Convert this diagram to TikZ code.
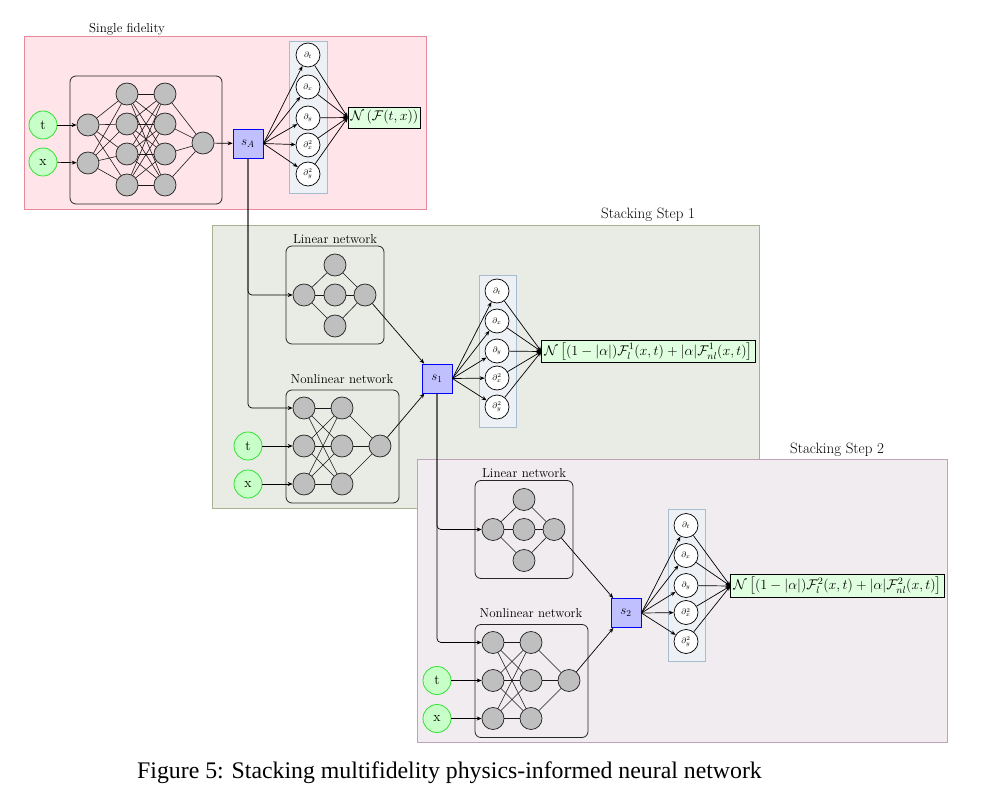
\RequirePackage{fix-cm}
\documentclass[tikz,border=0pt]{standalone}
\usepackage{amsmath}
\usepackage{fontspec}
\newfontfamily\capfont{Liberation Serif}
\usetikzlibrary{arrows.meta,calc}
\definecolor{pinkfill}{HTML}{FFE4EA}
\definecolor{pinkdraw}{HTML}{E8899C}
\definecolor{sonefill}{HTML}{E9ECE5}
\definecolor{sonedraw}{HTML}{A8B190}
\definecolor{stwofill}{HTML}{F0ECF0}
\definecolor{stwodraw}{HTML}{C0A2B8}
\definecolor{colfill}{HTML}{EDF0F4}
\definecolor{coldraw}{HTML}{A6BDD0}
\definecolor{gfill}{HTML}{C8FFC8}
\definecolor{gdraw}{HTML}{33E033}
\definecolor{sfill}{HTML}{C0C0FF}
\definecolor{nfill}{HTML}{E0FFE0}
\tikzset{
  every node/.style={font=\fontsize{13}{15}\selectfont},
  gn/.style={circle, draw=black!85, fill=gray!50, minimum size=22pt, inner sep=0pt, line width=0.75pt},
  inp/.style={circle, draw=gdraw, fill=gfill, minimum size=28pt, inner sep=0pt, line width=0.8pt, font=\fontsize{14}{16}\selectfont},
  dn/.style={circle, draw=black, fill=white, minimum size=24pt, inner sep=0pt, line width=0.7pt, font=\fontsize{8}{9}\selectfont},
  sbox/.style={draw=blue, fill=sfill, minimum width=30pt, minimum height=29pt, inner sep=0pt, line width=0.8pt},
  nbox/.style={draw=black, fill=nfill, inner sep=2.5pt, minimum height=21pt, line width=0.8pt, font=\fontsize{14}{16}\selectfont},
  netbox/.style={draw=black!85, rounded corners=6pt, line width=0.8pt, inner sep=0pt},
  colbox/.style={draw=coldraw, fill=colfill, line width=0.8pt, inner sep=0pt},
  panel/.style={line width=0.8pt, inner sep=0pt},
  ln/.style={line width=0.6pt, draw=black!90},
  arr/.style={-{Stealth[length=5pt,width=4pt]}, line width=0.7pt},
}
\begin{document}
\begin{tikzpicture}[x=1pt,y=-1pt]
\useasboundingbox (0,0) rectangle (1001,802);
% panels
\node[panel, draw=pinkdraw, fill=pinkfill, minimum width=402pt, minimum height=173pt] (P1) at (225,122.5) {};
\node[panel, draw=sonedraw, fill=sonefill, minimum width=547pt, minimum height=283pt] (P2) at (485.5,366.5) {};
\node[panel, draw=stwodraw, fill=stwofill, minimum width=530pt, minimum height=283pt] (P3) at (682,600.5) {};
\node (P1t) at (127,29) {Single fidelity};

% single fidelity network
\node[netbox, minimum width=152pt, minimum height=128pt] (AB) at (146,140) {};
\node[inp] (At) at (43,125) {t};
\node[inp] (Ax) at (43,162) {x};
\foreach \i/\y in {1/125,2/163} \node[gn] (A-i\i) at (88,\y) {};
\foreach \i/\y in {1/94,2/124,3/154,4/185} {
  \node[gn] (A-h\i) at (127,\y) {};
  \node[gn] (A-g\i) at (165,\y) {};
}
\node[gn] (A-o) at (203,143) {};
\foreach \i in {1,2} \foreach \j in {1,...,4} \draw[ln] (A-i\i) -- (A-h\j);
\foreach \i in {1,...,4} \foreach \j in {1,...,4} \draw[ln] (A-h\i) -- (A-g\j);
\foreach \j in {1,...,4} \draw[ln] (A-g\j) -- (A-o);
\draw[arr] (At) -- (A-i1);
\draw[arr] (Ax) -- (A-i2);
\node[sbox] (sA) at (248,143.5) {$s_A$};
\draw[arr] (A-o) -- (sA);
\node[colbox, minimum width=38pt, minimum height=152pt] (AC) at (308,117) {};
\foreach \i/\y/\t in {1/55/{\partial_t},2/87/{\partial_x},3/118/{\partial_y},4/145/{\partial_x^2},5/174/{\partial_y^2}}
  \node[dn] (A-d\i) at (308,\y) {$\t$};
\node[nbox] (AN) at (384.5,117.5) {$\mathcal{N}\left(\mathcal{F}(t,x)\right)$};
\foreach \i in {1,...,5} {
  \draw[arr] (sA.east) -- (A-d\i);
  \draw[arr] (A-d\i) -- (AN.west);
}

% stacking steps
\foreach \k/\dx/\dy in {1/0/0,2/189/234.5} {
\begin{scope}[shift={(\dx,\dy)}]
  \node (ST\k) at (648,215) {\fontsize{15}{17}\selectfont Stacking Step \k};
  % linear network
  \node[netbox, minimum width=98pt, minimum height=98pt] (LB\k) at (335,295) {};
  \node (LL\k) at (335,239) {Linear network};
  \node[gn] (L\k-in) at (304,295) {};
  \node[gn] (L\k-t) at (335,265) {};
  \node[gn] (L\k-m) at (335,295) {};
  \node[gn] (L\k-b) at (335,326) {};
  \node[gn] (L\k-o) at (365,295) {};
  \foreach \n in {t,m,b} {
    \draw[ln] (L\k-in) -- (L\k-\n);
    \draw[ln] (L\k-\n) -- (L\k-o);
  }
  % nonlinear network
  \node[netbox, minimum width=113pt, minimum height=113pt] (NB\k) at (342.5,446.5) {};
  \node (NL\k) at (342,379) {Nonlinear network};
  \foreach \i/\y in {1/408,2/446,3/484} {
    \node[gn] (N\k-a\i) at (304,\y) {};
    \node[gn] (N\k-b\i) at (342,\y) {};
  }
  \node[gn] (N\k-o) at (380,446) {};
  \foreach \i in {1,2,3} {
    \foreach \j in {1,2,3} \draw[ln] (N\k-a\i) -- (N\k-b\j);
    \draw[ln] (N\k-b\i) -- (N\k-o);
  }
  \node[inp] (T\k) at (248,446) {t};
  \node[inp] (X\k) at (248,484) {x};
  \draw[arr] (T\k) -- (N\k-a2);
  \draw[arr] (X\k) -- (N\k-a3);
  % stacking node
  \node[sbox] (s\k) at (437,378.5) {$s_{\k}$};
  \draw[arr] (L\k-o) -- (s\k);
  \draw[arr] (N\k-o) -- (s\k);
  % derivatives
  \node[colbox, minimum width=37pt, minimum height=152pt] (C\k) at (497.5,351) {};
  \foreach \i/\y/\t in {1/291/{\partial_t},2/321/{\partial_x},3/351/{\partial_y},4/378/{\partial_x^2},5/407/{\partial_y^2}}
    \node[dn] (D\k-\i) at (497,\y) {$\t$};
  \node[nbox] (NN\k) at (648.5,351.5) {$\mathcal{N}\left[(1-|\alpha|)\mathcal{F}_l^{\k}(x,t)+|\alpha|\mathcal{F}_{nl}^{\k}(x,t)\right]$};
  \foreach \i in {1,...,5} {
    \draw[arr] (s\k.east) -- (D\k-\i);
    \draw[arr] (D\k-\i) -- (NN\k.west);
  }
\end{scope}
}
% stacking connections
\draw[arr, rounded corners=4pt] (sA.south) |- (L1-in);
\draw[arr, rounded corners=4pt] (sA.south) |- (N1-a1);
\draw[arr, rounded corners=4pt] (s1.south) |- (L2-in);
\draw[arr, rounded corners=4pt] (s1.south) |- (N2-a1);

\node (cap) at (449.5,773) {\capfont\fontsize{23.8}{28}\selectfont Figure 5: Stacking multifidelity physics-informed neural network};
\end{tikzpicture}
\end{document}
